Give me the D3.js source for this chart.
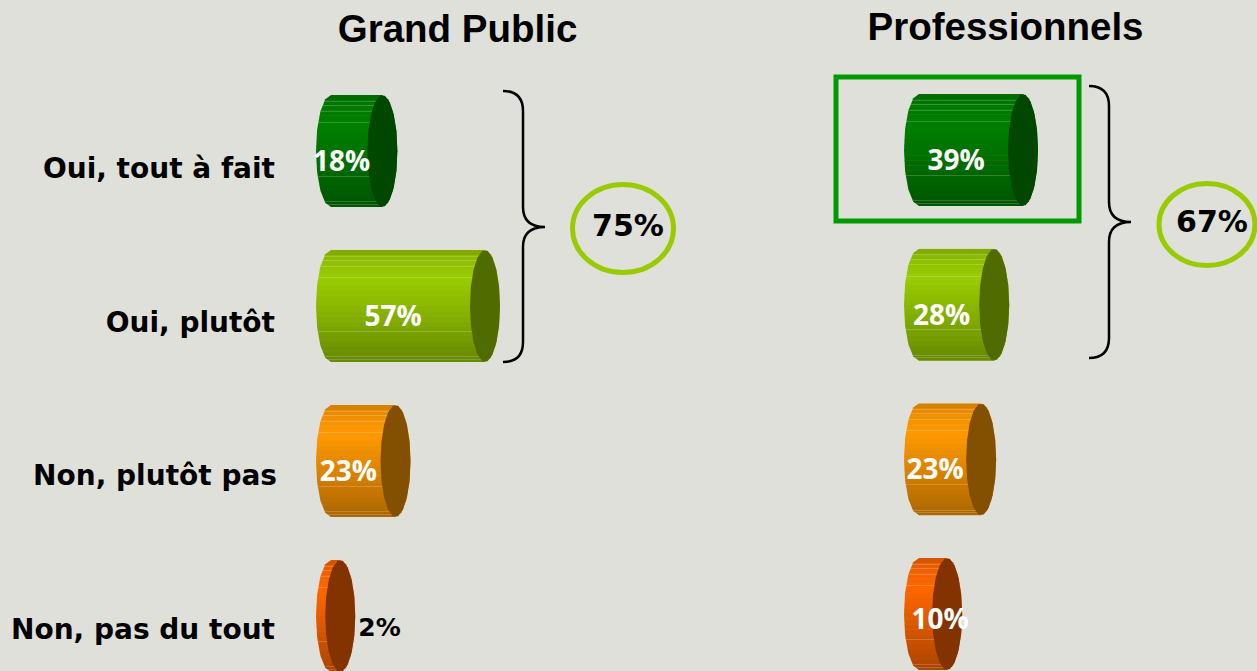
<!DOCTYPE html>
<html>
<head>
<meta charset="utf-8">
<script src="https://cdn.jsdelivr.net/npm/d3@7"></script>
<style>
  body { margin: 0; background: #dfe0da; overflow: hidden; }
  text { font-family: "DejaVu Sans", sans-serif; font-weight: bold; }
</style>
</head>
<body>
<svg id="chart" width="1257" height="671"></svg>
<script>
// 回答カテゴリと値
const categories = ["Oui, tout à fait", "Oui, plutôt", "Non, plutôt pas", "Non, pas du tout"];
const grandPublic = [18, 57, 23, 2];
const professionnels = [39, 28, 23, 10];
const totals = [75, 67];
const titles = ["Grand Public", "Professionnels"];

const baseColors = ["#008000", "#99cc00", "#ff9900", "#ff6600"];
const faceColors = ["#004700", "#506b00", "#825000", "#823300"];

const svg = d3.select("#chart");
const rx = 15, ry = 56;

// 左右のパネル
const panels = [
    { title: titles[0], values: grandPublic, total: totals[0], titleX: 457.5, titleY: 42,
      left: 331, xRange: [335, 485], yRange: [151, 616], brace: [503, 523, 545, 91, 227, 362], ring: [623, 228.5, 50.5, 44], id: "gp" },
    { title: titles[1], values: professionnels, total: totals[1], titleX: 1005.5, titleY: 40,
      left: 919, xRange: [921, 1023], yRange: [150, 614], brace: [1089, 1109, 1131, 86, 222, 358], ring: [1207, 224.5, 48, 41], id: "pro" }
];

// 楕円を多角形で近似（元画像のギザギザ感）
const facet = d3.line().curve(d3.curveLinear);
function arcPoints(cx, cy, from, to, n) {
    return d3.range(n + 1).map(i => {
        const a = from + (to - from) * i / n;
        return [cx + rx * Math.cos(a), cy + ry * Math.sin(a)];
    });
}

// 円柱の帯（横方向の色変化）
function bandColor(base, t) {
    const c = d3.rgb(base);
    const k = d3.scaleLinear().domain([0, 0.06, 0.25, 0.5, 1]).range([0.84, 0.93, 1, 0.9, 0.68])(t);
    return d3.rgb(c.r * k, c.g * k, c.b * k).formatHex();
}
const bandCount = 22;
const lightLines = [0.05, 0.09, 0.14, 0.24, 0.72, 0.95, 0.97];

panels.forEach(p => {
    const xscale = d3.scaleLinear().domain([0, d3.max(p.values)]).range([p.xRange[0], p.xRange[1]]);
    const yscale = d3.scalePoint().domain(categories).range(p.yRange);

    svg.append("text")
        .attr("x", p.titleX)
        .attr("y", p.titleY)
        .attr("text-anchor", "middle")
        .attr("font-size", "38.5px")
        .style("font-family", "'Liberation Sans', sans-serif")
        .text(p.title);

    p.values.forEach((v, i) => {
        const cy = yscale(categories[i]);
        const cx = xscale(v);
        const outline = [
            ...arcPoints(p.left, cy, -Math.PI / 2, -Math.PI * 3 / 2, 8),
            ...arcPoints(cx, cy, Math.PI / 2, -Math.PI / 2, 8)
        ];
        const clipId = `clip-${p.id}-${i}`;
        svg.append("clipPath").attr("id", clipId)
            .append("path").attr("d", facet(outline) + "Z");

        const bodyX = p.left - rx - 1;
        const bodyW = cx - p.left + 2 * rx + 2;
        const body = svg.append("g").attr("clip-path", `url(#${clipId})`);
        d3.range(bandCount).forEach(b => {
            body.append("rect")
                .attr("x", bodyX)
                .attr("y", cy - ry + b * (2 * ry / bandCount))
                .attr("width", bodyW)
                .attr("height", 2 * ry / bandCount + 0.5)
                .attr("fill", bandColor(baseColors[i], b / (bandCount - 1)));
        });
        lightLines.forEach(t => {
            body.append("rect")
                .attr("x", bodyX)
                .attr("y", Math.round(cy - ry + t * 2 * ry))
                .attr("width", bodyW)
                .attr("height", 1)
                .attr("fill", "#ffffff")
                .attr("opacity", 0.18);
        });

        svg.append("path")
            .attr("d", facet(arcPoints(cx, cy, 0, Math.PI * 2, 18)) + "Z")
            .attr("fill", faceColors[i]);

        // ラベル位置：小さい値だけ別扱い
        const bodyMid = (p.left - rx + cx - rx) / 2;
        const small = v < 5;
        const narrow = v < 15;
        const valueLabel = svg.append("text")
            .attr("x", small ? cx + rx + 3 : (narrow ? cx - 7 : bodyMid))
            .attr("y", narrow && !small ? cy + 15 : cy + 20)
            .attr("text-anchor", small ? "start" : "middle")
            .attr("fill", small ? "#000" : "#fff")
            .text(v + "%");
        if (small) {
            valueLabel.attr("font-size", "25px");
        } else {
            valueLabel.attr("font-size", "28px")
                .style("font-family", "'Open Sans', sans-serif")
                .style("font-weight", 700);
        }
    });

    // 中括弧
    const [x0, x1, x2, y0, y1, y2] = p.brace;
    const r = 20;
    svg.append("path")
        .attr("d", `M${x0},${y0} Q${x1},${y0} ${x1},${y0 + r} L${x1},${y1 - r} Q${x1},${y1} ${x2},${y1} Q${x1},${y1} ${x1},${y1 + r} L${x1},${y2 - r} Q${x1},${y2} ${x0},${y2}`)
        .attr("fill", "none")
        .attr("stroke", "#000")
        .attr("stroke-width", 2.5);

    const [ex, ey, erx, ery] = p.ring;
    svg.append("ellipse")
        .attr("cx", ex).attr("cy", ey).attr("rx", erx).attr("ry", ery)
        .attr("fill", "none")
        .attr("stroke", "#99cc00")
        .attr("stroke-width", 5);
    svg.append("text")
        .attr("x", ex + 5)
        .attr("y", ey + 7)
        .attr("text-anchor", "middle")
        .attr("font-size", "30px")
        .attr("fill", "#000")
        .text(p.total + "%");
});

// 行ラベル
const labelY = d3.scalePoint().domain(categories).range([178, 639]);
svg.selectAll("text.row")
    .data(categories)
    .enter().append("text")
    .attr("class", "row")
    .attr("x", d => d === categories[2] ? 277 : 275)
    .attr("y", d => labelY(d))
    .attr("text-anchor", "end")
    .attr("font-size", "28px")
    .text(d => d);

// ハイライト枠
svg.append("rect")
    .attr("x", 836).attr("y", 77)
    .attr("width", 243).attr("height", 144)
    .attr("fill", "none")
    .attr("stroke", "#009900")
    .attr("stroke-width", 5);
</script>
</body>
</html>
